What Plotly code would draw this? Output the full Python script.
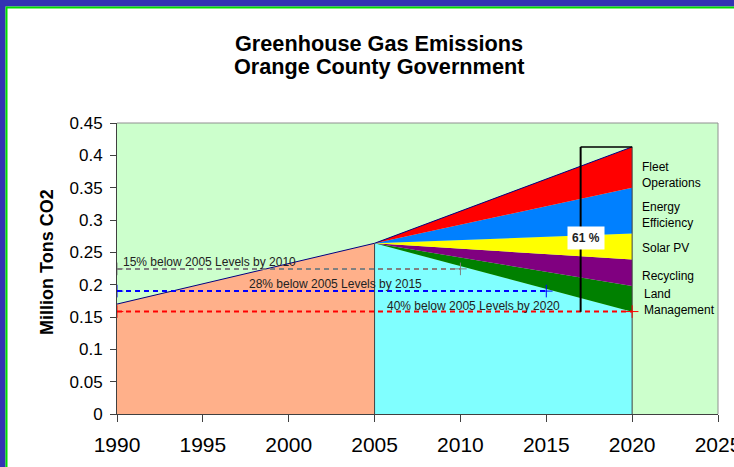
import plotly.graph_objects as go

# ---------------- data ----------------
hist_years = [1990, 2005]
hist_emissions = [0.170, 0.264]          # million tons CO2

proj_years = [2005, 2020]
remaining = [0.264, 0.158]               # emissions left after all measures
land_mgmt = [0.0, 0.040]
recycling = [0.0, 0.041]
solar_pv = [0.0, 0.040]
energy_eff = [0.0, 0.071]
fleet_ops = [0.0, 0.063]

target_pcts = [15, 28, 40]
target_years = [2010, 2015, 2020]
target_labels = ["15% below 2005 Levels by 2010",
                 "28% below 2005 Levels by 2015",
                 "40% below 2005 Levels by 2020"]

bracket_year = 2017
reduction_label = "61 %"

wedge_names = ["Land Management", "Recycling", "Solar PV", "Energy Efficiency", "Fleet Operations"]
wedge_labels = ["Land<br>Management", "Recycling", "Solar PV", "Energy<br>Efficiency", "Fleet<br>Operations"]

x_ticks = [1990, 1995, 2000, 2005, 2010, 2015, 2020, 2025]
y_ticks = [0, 0.05, 0.1, 0.15, 0.2, 0.25, 0.3, 0.35, 0.4, 0.45]
y_tick_text = ["0", "0.05", "0.1", "0.15", "0.2", "0.25", "0.3", "0.35", "0.4", "0.45"]

# ---------------- styles ----------------
W, H = 734, 467
L, R, T, B = 117, 718, 123, 414
FONT = "Arial, 'Liberation Sans', sans-serif"
wedge_colors = ["#008000", "#800080", "#FFFF00", "#0080FF", "#FF0000"]


def xp(px):
    return (px - L) / (R - L)


def yp(py):
    return (B - py) / (B - T)


def xd(px):
    return x_ticks[0] + (px - L) / (R - L) * (x_ticks[-1] - x_ticks[0])


def yd(py):
    return (B - py) / (B - T) * y_ticks[-1]


fig = go.Figure()

# historical area
fig.add_trace(go.Scatter(x=hist_years, y=hist_emissions, mode="lines", fill="tozeroy",
                         fillcolor="#FFB08A", line=dict(color="#000080", width=1),
                         hoverinfo="skip", showlegend=False))

# projected stacked wedges
wedges = [land_mgmt, recycling, solar_pv, energy_eff, fleet_ops]
fig.add_trace(go.Scatter(x=proj_years, y=remaining, mode="lines", stackgroup="s",
                         fillcolor="#80FFFF", line=dict(width=0), showlegend=False,
                         name="Remaining"))
for i, (vals, col, nm) in enumerate(zip(wedges, wedge_colors, wedge_names)):
    top = i == len(wedges) - 1
    fig.add_trace(go.Scatter(x=proj_years, y=vals, mode="lines", stackgroup="s",
                             fillcolor=col, name=nm,
                             line=dict(width=1 if top else 0, color="#000080" if top else col),
                             showlegend=False))

total_2020 = remaining[-1] + sum(w[-1] for w in wedges)

# vertical borders at 2005 and 2020
fig.add_trace(go.Scatter(x=[hist_years[-1], hist_years[-1]], y=[0, hist_emissions[-1]],
                         mode="lines", line=dict(color="#404040", width=1), showlegend=False))
fig.add_trace(go.Scatter(x=[proj_years[-1], proj_years[-1]], y=[0, total_2020],
                         mode="lines", line=dict(color="#404040", width=1), showlegend=False))

# target lines
base = hist_emissions[-1]
target_colors = ["#808080", "#0000FF", "#FF0000"]
for pct, yr, col in zip(target_pcts, target_years, target_colors):
    lvl = base * (1 - pct / 100)
    fig.add_trace(go.Scatter(x=[hist_years[0], yr], y=[lvl, lvl], mode="lines+markers",
                             line=dict(color=col, width=2, dash="5px,4px"),
                             marker=dict(symbol="cross-thin", size=9, line=dict(color=col, width=1)),
                             showlegend=False))

# bracket
low = remaining[-1]
fig.add_trace(go.Scatter(x=[bracket_year, bracket_year], y=[low, total_2020], mode="lines",
                         line=dict(color="black", width=2), showlegend=False))
fig.add_trace(go.Scatter(x=[bracket_year, proj_years[-1]], y=[total_2020, total_2020], mode="lines",
                         line=dict(color="black", width=1.5), showlegend=False))

annotations = []
# titles
annotations.append(dict(xref="paper", yref="paper", x=xp(378.5), y=yp(43.5), xanchor="center",
                        yanchor="middle", showarrow=False, text="<b>Greenhouse Gas Emissions</b>",
                        font=dict(family=FONT, size=21.7, color="black")))
annotations.append(dict(xref="paper", yref="paper", x=xp(378.5), y=yp(66.5), xanchor="center",
                        yanchor="middle", showarrow=False, text="<b>Orange County Government</b>",
                        font=dict(family=FONT, size=21.7, color="black")))
# y title
annotations.append(dict(xref="paper", yref="paper", x=xp(46.5), y=yp(262.5), xanchor="center",
                        yanchor="middle", showarrow=False, text="<b>Million Tons CO2</b>", textangle=-90,
                        font=dict(family=FONT, size=18, color="black")))
# target labels
target_label_pos = [(121, 261.5), (247, 284), (385, 305.5)]
for txt, (px, py) in zip(target_labels, target_label_pos):
    annotations.append(dict(x=xd(px), y=yd(py), xanchor="left", yanchor="middle", showarrow=False,
                            text=txt, font=dict(family=FONT, size=12, color="#222222")))
# wedge labels
wedge_label_pos = [(642, 302), (640, 276), (640, 248), (640, 214.5), (640, 175)]
for txt, (px, py) in zip(wedge_labels, wedge_label_pos):
    annotations.append(dict(x=xd(px), y=yd(py), xanchor="left", yanchor="middle", showarrow=False,
                            align="left", text=txt, font=dict(family=FONT, size=12, color="black")))
# 61 %
annotations.append(dict(x=xd(586), y=yd(238), xanchor="center", yanchor="middle", showarrow=False,
                        text="<b>" + reduction_label + "</b>", bgcolor="white", borderpad=4,
                        font=dict(family=FONT, size=12, color="#222222")))

shapes = [
    # blue frame
    dict(type="rect", xref="paper", yref="paper", x0=xp(0), x1=xp(5.5), y0=yp(H + 20), y1=yp(0),
         fillcolor="#3333B3", line=dict(width=0), layer="above"),
    dict(type="rect", xref="paper", yref="paper", x0=xp(0), x1=xp(W + 40), y0=yp(6.5), y1=yp(0),
         fillcolor="#3333B3", line=dict(width=0), layer="above"),
    dict(type="line", xref="paper", yref="paper", x0=xp(6.5), x1=xp(6.5), y0=yp(H + 20), y1=yp(6.5),
         line=dict(color="#00DD00", width=2), layer="above"),
    dict(type="line", xref="paper", yref="paper", x0=xp(6.5), x1=xp(W + 40), y0=yp(7.5), y1=yp(7.5),
         line=dict(color="#00DD00", width=2), layer="above"),
    # plot border top/right
    dict(type="line", xref="paper", yref="paper", x0=0, x1=1, y0=1, y1=1,
         line=dict(color="#909090", width=1), layer="above"),
    dict(type="line", xref="paper", yref="paper", x0=1, x1=1, y0=0, y1=1,
         line=dict(color="#909090", width=1), layer="above"),
]

fig.update_layout(
    width=W, height=H,
    margin=dict(l=L, r=W - R, t=T, b=H - B, autoexpand=False),
    paper_bgcolor="white", plot_bgcolor="#CCFFCC",
    showlegend=False,
    annotations=annotations, shapes=shapes,
    xaxis=dict(range=[x_ticks[0], x_ticks[-1]], tickvals=x_ticks, ticktext=[str(v) for v in x_ticks],
               showgrid=False, zeroline=False, showline=True, linecolor="#404040", linewidth=1,
               ticks="outside", ticklen=7, tickcolor="#404040", ticklabelstandoff=5,
               ticklabeloverflow="allow", automargin=False,
               tickfont=dict(family="'Liberation Sans Narrow', Arial, sans-serif", size=21, color="black")),
    yaxis=dict(range=[y_ticks[0], y_ticks[-1]], tickvals=y_ticks, ticktext=y_tick_text,
               showgrid=False, zeroline=False, showline=True, linecolor="#404040", linewidth=1,
               ticks="outside", ticklen=6, tickcolor="#404040", ticklabelstandoff=4,
               automargin=False,
               tickfont=dict(family=FONT, size=17, color="black")),
)

fig.write_html("out.html", config={"displayModeBar": False},
               post_script="document.body.style.margin='0';document.body.style.overflow='hidden';"
                           "document.documentElement.style.overflow='hidden';")
